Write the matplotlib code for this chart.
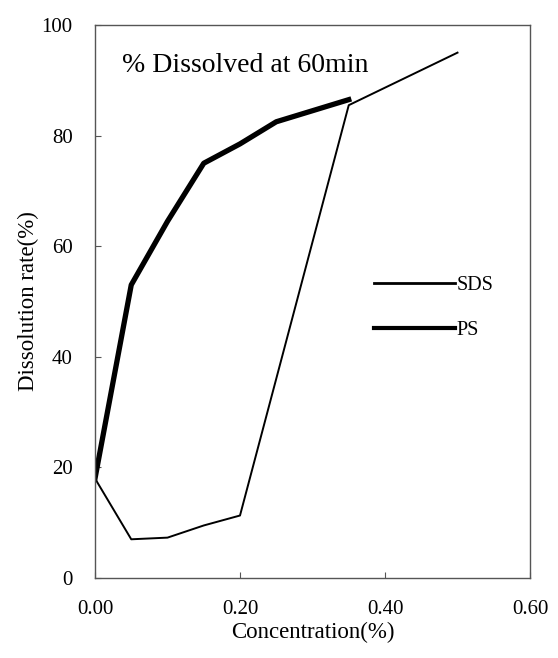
import matplotlib.pyplot as plt
from matplotlib.lines import Line2D

plt.rcParams['font.family'] = ['Liberation Serif', 'DejaVu Serif']

conc_sds = [0.0, 0.05, 0.10, 0.15, 0.20, 0.35, 0.50]
rate_sds = [18.0, 7.0, 7.3, 9.5, 11.3, 85.5, 95.0]

conc_ps = [0.0, 0.05, 0.10, 0.15, 0.20, 0.25, 0.35]
rate_ps = [18.0, 53.0, 64.5, 75.0, 78.5, 82.5, 86.5]

fig = plt.figure(figsize=(5.58, 6.58), dpi=100)
ax = fig.add_axes([95 / 558, 1 - 578 / 658, 435 / 558, 553 / 658])

ax.plot(conc_sds, rate_sds, color='black', linewidth=1.4)
ax.plot(conc_ps, rate_ps, color='black', linewidth=3.8)

ax.set_xlim(0, 0.6)
ax.set_ylim(0, 100)
ax.set_xticks([0, 0.2, 0.4, 0.6])
ax.set_xticklabels(['0.00', '0.20', '0.40', '0.60'])
ax.set_yticks([0, 20, 40, 60, 80, 100])
ax.tick_params(direction='in', length=4, width=0.8, labelsize=15, color='#555555')
ax.tick_params(axis='x', pad=16)
ax.tick_params(axis='y', pad=16)
for s in ax.spines.values():
    s.set_color('#555555')
    s.set_linewidth(1.0)

ax.set_xlabel('Concentration(%)', fontsize=16.5, labelpad=2)
ax.set_ylabel('Dissolution rate(%)', fontsize=16.5, labelpad=2)

ax.text(0.062, 0.926, '% Dissolved at 60min', transform=ax.transAxes, fontsize=20,
        va='center')

# legend lines drawn a bit thinner than the data lines, as in the original
handles = [Line2D([], [], color='black', linewidth=2.0),
           Line2D([], [], color='black', linewidth=3.0)]
ax.legend(handles, ['SDS', 'PS'], loc='center left', bbox_to_anchor=(0.6, 0.488),
          frameon=False, fontsize=14.5, handlelength=4.0, handletextpad=0.1,
          labelspacing=1.3)

plt.savefig('out.png', dpi=100)
